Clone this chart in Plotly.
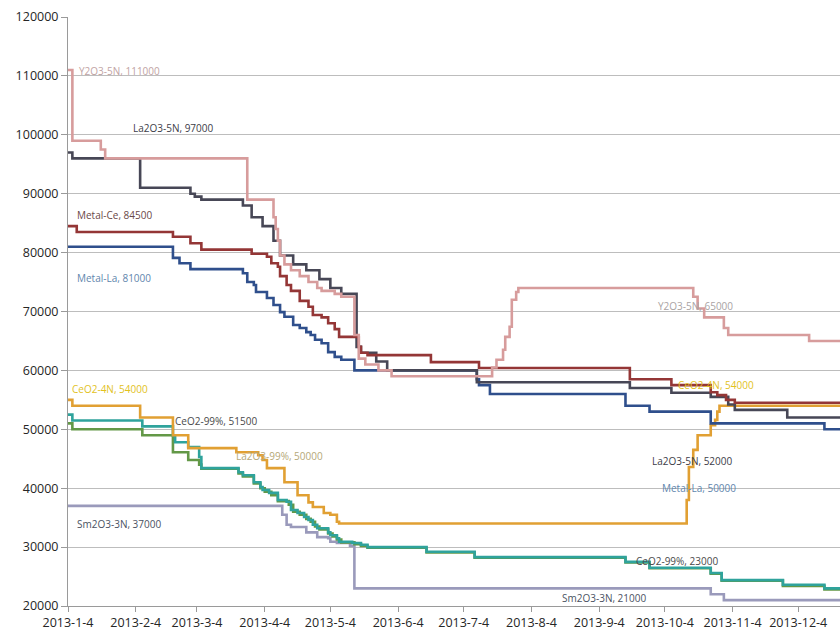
import plotly.graph_objects as go

# Price change points (date, price) for each product; prices hold until the next change.
y2o3_5n_dates = ["2013-01-04", "2013-01-06", "2013-01-19", "2013-01-21", "2013-03-27", "2013-04-08",
                 "2013-04-09", "2013-04-10", "2013-04-11", "2013-04-13", "2013-04-16", "2013-04-20",
                 "2013-04-24", "2013-04-28", "2013-04-30", "2013-05-06", "2013-05-09", "2013-05-15",
                 "2013-05-17", "2013-05-20", "2013-05-26", "2013-06-01", "2013-07-16", "2013-07-17",
                 "2013-07-19", "2013-07-22", "2013-07-23", "2013-07-25", "2013-07-26", "2013-07-28",
                 "2013-07-29", "2013-10-17", "2013-10-19", "2013-10-22", "2013-10-31", "2013-11-02",
                 "2013-12-09"]
y2o3_5n_vals = [111000, 99000, 97500, 96000, 89000, 86000,
                84000, 82000, 79500, 78000, 77000, 76000,
                75000, 74000, 73500, 73000, 72500, 66000,
                62000, 61000, 60000, 59000, 59000, 60500,
                61800, 63500, 65700, 67400, 72000, 73300,
                74000, 72500, 70500, 69000, 67200, 66000,
                65000]

la2o3_5n_dates = ["2013-01-04", "2013-01-06", "2013-02-06", "2013-03-01", "2013-03-03", "2013-03-06",
                  "2013-03-25", "2013-03-29", "2013-04-03", "2013-04-08", "2013-04-11", "2013-04-17",
                  "2013-04-23", "2013-04-29", "2013-05-04", "2013-05-09", "2013-05-16", "2013-05-18",
                  "2013-05-25", "2013-05-30", "2013-07-10", "2013-09-18", "2013-10-07", "2013-10-25",
                  "2013-11-02", "2013-11-05", "2013-11-29"]
la2o3_5n_vals = [97000, 96000, 91000, 90000, 89500, 89000,
                 88000, 86000, 84500, 82000, 79500, 78000,
                 77000, 75500, 74000, 73000, 64000, 63000,
                 61500, 60000, 58000, 57000, 56200, 55500,
                 54200, 53300, 52000]

metal_ce_dates = ["2013-01-04", "2013-01-08", "2013-02-21", "2013-03-01", "2013-03-06", "2013-03-29",
                  "2013-04-05", "2013-04-07", "2013-04-10", "2013-04-11", "2013-04-14", "2013-04-16",
                  "2013-04-20", "2013-04-24", "2013-04-26", "2013-04-30", "2013-05-03", "2013-05-06",
                  "2013-05-08", "2013-05-17", "2013-05-18", "2013-05-21", "2013-06-19", "2013-07-11",
                  "2013-09-18", "2013-10-07", "2013-10-25", "2013-10-28", "2013-11-01", "2013-11-05"]
metal_ce_vals = [84500, 83500, 82700, 81600, 80500, 79800,
                 79300, 78200, 77600, 76000, 74500, 73500,
                 71800, 70800, 69400, 69000, 68000, 67000,
                 65700, 64000, 63000, 62600, 61400, 60400,
                 58500, 57500, 56300, 55800, 55000, 54500]

metal_la_dates = ["2013-01-04", "2013-02-21", "2013-02-24", "2013-03-01", "2013-03-25", "2013-03-27",
                  "2013-03-30", "2013-03-31", "2013-04-05", "2013-04-08", "2013-04-11", "2013-04-13",
                  "2013-04-17", "2013-04-20", "2013-04-23", "2013-04-25", "2013-04-27", "2013-04-30",
                  "2013-05-03", "2013-05-06", "2013-05-09", "2013-05-15", "2013-07-10", "2013-07-11",
                  "2013-07-16", "2013-09-16", "2013-09-27", "2013-10-25", "2013-12-16"]
metal_la_vals = [81000, 79100, 78200, 77200, 76500, 75000,
                 74500, 73300, 72300, 71100, 69900, 69100,
                 67700, 67200, 66500, 66000, 65200, 64600,
                 63100, 62300, 61800, 60000, 58500, 57500,
                 56000, 54000, 53000, 51000, 50000]

ceo2_4n_dates = ["2013-01-04", "2013-01-06", "2013-02-06", "2013-02-21", "2013-02-28", "2013-03-22",
                 "2013-04-01", "2013-04-03", "2013-04-05", "2013-04-13", "2013-04-19", "2013-04-24",
                 "2013-04-26", "2013-05-01", "2013-05-04", "2013-05-07", "2013-05-08", "2013-10-13",
                 "2013-10-14", "2013-10-15", "2013-10-17", "2013-10-19", "2013-10-25", "2013-10-27",
                 "2013-10-28", "2013-10-29"]
ceo2_4n_vals = [55000, 54000, 52000, 49000, 46800, 46100,
                45600, 44800, 43400, 41000, 38800, 37600,
                36800, 35800, 35500, 34300, 34000, 34000,
                38000, 43600, 46500, 49000, 50700, 51600,
                53000, 54000]

ceo2_99_dates = ["2013-01-04", "2013-01-06", "2013-02-07", "2013-02-21", "2013-02-22", "2013-02-28",
                 "2013-03-05", "2013-03-06", "2013-03-23", "2013-03-25", "2013-03-30", "2013-04-02",
                 "2013-04-03", "2013-04-06", "2013-04-10", "2013-04-14", "2013-04-16", "2013-04-19",
                 "2013-04-22", "2013-04-24", "2013-04-26", "2013-04-28", "2013-05-03", "2013-05-04",
                 "2013-05-07", "2013-05-08", "2013-05-14", "2013-05-18", "2013-05-21", "2013-06-17",
                 "2013-07-09", "2013-09-16", "2013-09-27", "2013-10-25", "2013-10-30", "2013-11-27",
                 "2013-12-16"]
ceo2_99_vals = [52500, 51500, 50500, 49000, 47800, 47000,
                45300, 43400, 42700, 42200, 41000, 40200,
                39700, 39200, 38000, 37700, 36300, 35800,
                35100, 34600, 33800, 33200, 32500, 32000,
                31500, 30900, 30700, 30400, 30000, 29200,
                28300, 27500, 26500, 25600, 24400, 23600,
                23000]

la2o3_99_dates = ["2013-01-04", "2013-01-06", "2013-02-07", "2013-02-21", "2013-02-28", "2013-03-05",
                  "2013-03-06", "2013-03-23", "2013-03-25", "2013-03-30", "2013-04-02", "2013-04-04",
                  "2013-04-07", "2013-04-10", "2013-04-15", "2013-04-17", "2013-04-20", "2013-04-23",
                  "2013-04-25", "2013-04-27", "2013-04-29", "2013-05-03", "2013-05-05", "2013-05-07",
                  "2013-05-09", "2013-05-15", "2013-05-18", "2013-05-21", "2013-06-17", "2013-07-09",
                  "2013-09-16", "2013-09-27", "2013-10-25", "2013-10-30", "2013-11-27", "2013-12-16"]
la2o3_99_vals = [51000, 50000, 49000, 46100, 44800, 44000,
                 43300, 42500, 42000, 40800, 40000, 39400,
                 38800, 37800, 37200, 36000, 35500, 34800,
                 34300, 33500, 33000, 32300, 31800, 31300,
                 30800, 30500, 30200, 29900, 29100, 28200,
                 27400, 26400, 25500, 24300, 23400, 22800]

sm2o3_3n_dates = ["2013-01-04", "2013-04-12", "2013-04-14", "2013-04-16", "2013-04-23", "2013-04-28",
                  "2013-05-03", "2013-05-04", "2013-05-07", "2013-05-13", "2013-05-15", "2013-10-25",
                  "2013-10-31"]
sm2o3_3n_vals = [37000, 35500, 33800, 33400, 32500, 31700,
                 31500, 30900, 30700, 30200, 23000, 22000,
                 21000]

# Text labels placed beside the curves
label_texts = ["Y2O3-5N, 111000", "La2O3-5N, 97000", "Metal-Ce, 84500", "Metal-La, 81000",
               "CeO2-4N, 54000", "CeO2-99%, 51500", "La2O3-99%, 50000", "Sm2O3-3N, 37000",
               "Y2O3-5N, 65000", "CeO2-4N, 54000", "La2O3-5N, 52000", "Metal-La, 50000",
               "CeO2-99%, 23000", "Sm2O3-3N, 21000"]
label_dates = ["2013-01-08", "2013-02-02", "2013-01-07", "2013-01-07",
               "2013-01-05", "2013-02-21", "2013-03-21", "2013-01-07",
               "2013-09-30", "2013-10-09", "2013-09-27", "2013-10-02",
               "2013-09-20", "2013-08-17"]
label_vals = [110800, 101150, 86400, 75700,
              56800, 51400, 45500, 33900,
              70900, 57500, 44600, 40000,
              27600, 21350]
label_colors = ["#bfa3a3", "#3c3c48", "#6a4848", "#5f86ad",
                "#e2c21c", "#4a4a4a", "#b5a878", "#4a5262",
                "#a9a3a3", "#e2c21c", "#3c3c48", "#5f86ad",
                "#4a4a4a", "#4a5262"]

tick_dates = ["2013-01-04", "2013-02-04", "2013-03-04", "2013-04-04", "2013-05-04", "2013-06-04",
              "2013-07-04", "2013-08-04", "2013-09-04", "2013-10-04", "2013-11-04", "2013-12-04"]
tick_text = ["2013-1-4", "2013-2-4", "2013-3-4", "2013-4-4", "2013-5-4", "2013-6-4",
             "2013-7-4", "2013-8-4", "2013-9-4", "2013-10-4", "2013-11-4", "2013-12-4"]

x_start = "2013-01-04"
x_end = "2013-12-23 03:00"

series = [
    ("Sm2O3-3N", sm2o3_3n_dates, sm2o3_3n_vals, "#9a9abb"),
    ("La2O3-99%", la2o3_99_dates, la2o3_99_vals, "#639847"),
    ("CeO2-99%", ceo2_99_dates, ceo2_99_vals, "#2fa39c"),
    ("CeO2-4N", ceo2_4n_dates, ceo2_4n_vals, "#e1a033"),
    ("Metal-La", metal_la_dates, metal_la_vals, "#2f4f8c"),
    ("La2O3-5N", la2o3_5n_dates, la2o3_5n_vals, "#474756"),
    ("Metal-Ce", metal_ce_dates, metal_ce_vals, "#943636"),
    ("Y2O3-5N", y2o3_5n_dates, y2o3_5n_vals, "#d79c9c"),
]

fig = go.Figure()
for name, dates, vals, color in series:
    fig.add_trace(go.Scatter(
        x=list(dates) + [x_end],
        y=list(vals) + [vals[-1]],
        mode="lines",
        name=name,
        line=dict(color=color, width=2.6, shape="hv"),
        showlegend=False,
        hoverinfo="skip",
    ))

for text, d, v, c in zip(label_texts, label_dates, label_vals, label_colors):
    fig.add_annotation(
        x=d, y=v, xref="x", yref="y", text=text, showarrow=False,
        xanchor="left", yanchor="middle",
        font=dict(family="Open Sans, DejaVu Sans, sans-serif", size=10, color=c),
    )

fig.update_layout(
    width=840, height=634,
    margin=dict(l=68, r=0, t=17, b=28),
    paper_bgcolor="white", plot_bgcolor="white",
    font=dict(family="Open Sans, DejaVu Sans, sans-serif", color="#262626"),
)
fig.update_xaxes(
    type="date", range=[x_start, x_end],
    tickvals=tick_dates, ticktext=tick_text,
    ticks="outside", ticklen=5, tickcolor="#9a9a9a",
    showgrid=False, showline=True, linecolor="#9a9a9a", linewidth=1,
    tickfont=dict(size=12.5, color="#262626"),
    zeroline=False,
)
fig.update_yaxes(
    range=[20000, 120000], dtick=10000, tick0=20000,
    ticks="outside", ticklen=6, tickcolor="#9a9a9a",
    showgrid=True, gridcolor="#bdbdbd", gridwidth=1,
    showline=True, linecolor="#9a9a9a", linewidth=1,
    tickfont=dict(size=12.5, color="#262626"),
    tickformat="d", zeroline=False,
)

fig.write_html("out.html")
